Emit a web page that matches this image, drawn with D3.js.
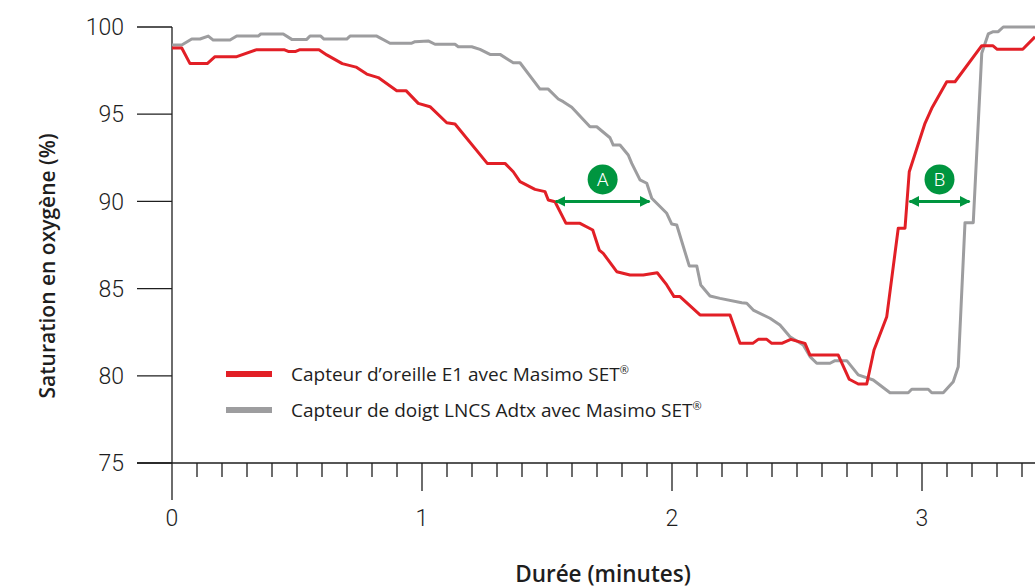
<!DOCTYPE html>
<html>
<head>
<meta charset="utf-8">
<script src="https://cdn.jsdelivr.net/npm/d3@7"></script>
<style>
  body { margin: 0; background: #fff; }
  svg { display: block; font-family: "Open Sans", "Noto Sans", sans-serif; }
</style>
</head>
<body>
<div class="chart"></div>
<script>
// data (minutes, SpO2 %)
const earTime = [0, 0.039, 0.072, 0.141, 0.172, 0.259, 0.339, 0.448, 0.465, 0.495, 0.512, 0.588, 0.619, 0.681, 0.736, 0.779, 0.825, 0.899, 0.936, 0.985, 1.032, 1.099, 1.132, 1.261, 1.332, 1.365, 1.392, 1.452, 1.492, 1.505, 1.532, 1.576, 1.632, 1.683, 1.709, 1.725, 1.779, 1.832, 1.885, 1.941, 1.979, 2.008, 2.032, 2.112, 2.232, 2.272, 2.323, 2.345, 2.379, 2.399, 2.439, 2.475, 2.532, 2.552, 2.665, 2.709, 2.745, 2.779, 2.808, 2.859, 2.905, 2.932, 2.949, 3.012, 3.039, 3.099, 3.132, 3.239, 3.283, 3.301, 3.403, 3.452]
const earValue = [98.8, 98.8, 97.9, 97.9, 98.3, 98.3, 98.7, 98.7, 98.6, 98.6, 98.7, 98.7, 98.4, 97.9, 97.7, 97.3, 97.1, 96.35, 96.35, 95.62, 95.43, 94.51, 94.44, 92.18, 92.18, 91.7, 91.13, 90.69, 90.56, 90.08, 89.98, 88.74, 88.74, 88.36, 87.21, 87.02, 85.97, 85.78, 85.78, 85.91, 85.21, 84.54, 84.54, 83.49, 83.49, 81.86, 81.86, 82.09, 82.09, 81.86, 81.86, 82.09, 81.86, 81.19, 81.19, 79.8, 79.53, 79.53, 81.48, 83.39, 88.46, 88.46, 91.7, 94.48, 95.34, 96.86, 96.86, 98.93, 98.93, 98.72, 98.72, 99.44]

const fingerTime = [0, 0.039, 0.079, 0.112, 0.145, 0.165, 0.232, 0.259, 0.345, 0.355, 0.445, 0.479, 0.539, 0.552, 0.595, 0.608, 0.699, 0.712, 0.819, 0.872, 0.959, 0.972, 1.025, 1.052, 1.132, 1.145, 1.199, 1.232, 1.272, 1.312, 1.365, 1.392, 1.472, 1.505, 1.545, 1.565, 1.599, 1.672, 1.699, 1.752, 1.765, 1.792, 1.825, 1.839, 1.872, 1.899, 1.919, 1.979, 1.999, 2.019, 2.069, 2.099, 2.115, 2.152, 2.192, 2.279, 2.299, 2.325, 2.392, 2.432, 2.472, 2.525, 2.552, 2.579, 2.632, 2.652, 2.699, 2.745, 2.805, 2.872, 2.945, 2.959, 3.025, 3.039, 3.085, 3.125, 3.145, 3.172, 3.205, 3.239, 3.265, 3.285, 3.305, 3.325, 3.452]
const fingerValue = [98.97, 98.97, 99.31, 99.31, 99.48, 99.25, 99.25, 99.48, 99.48, 99.6, 99.6, 99.29, 99.29, 99.48, 99.48, 99.31, 99.31, 99.48, 99.48, 99.07, 99.07, 99.16, 99.2, 99.01, 99.01, 98.87, 98.87, 98.72, 98.43, 98.43, 97.95, 97.95, 96.44, 96.44, 95.87, 95.72, 95.4, 94.28, 94.28, 93.65, 93.23, 93.23, 92.66, 92.18, 91.23, 91.04, 90.18, 89.32, 88.7, 88.65, 86.3, 86.3, 85.21, 84.58, 84.44, 84.19, 84.16, 83.77, 83.3, 82.91, 82.24, 81.77, 81.1, 80.72, 80.72, 80.87, 80.87, 80.05, 79.76, 79.03, 79.03, 79.23, 79.23, 79.03, 79.03, 79.66, 80.52, 88.78, 88.78, 98.49, 99.6, 99.73, 99.73, 100, 100]

const yTicks = [75, 80, 85, 90, 95, 100]
const xTicks = [0, 1, 2, 3]
const seriesNames = ["Capteur d\u2019oreille E1 avec Masimo SET", "Capteur de doigt LNCS Adtx avec Masimo SET"]
// delay markers: [label, start, end, level]
const gaps = [["A", 1.535, 1.91, 90], ["B", 2.95, 3.19, 90]]

const width = 1035
const height = 588
const red = "#e21f26"
const grey = "#9d9d9f"
const green = "#00953f"
const ink = "#1e1e1e"

const svg = d3.select(".chart").append("svg")
  .attr("width", width)
  .attr("height", height)

const x = d3.scaleLinear().domain([-0.14, 3.452]).range([137, 1035])
const y = d3.scaleLinear().domain([75, 100]).range([463, 27])

// x axis
const xAxis = svg.append("g").attr("transform", `translate(0,${y(75)})`)
xAxis.append("line")
  .attr("x1", x(-0.14)).attr("x2", width)
  .attr("stroke", ink).attr("stroke-width", 1.3)
xAxis.selectAll("line.minor")
  .data(d3.range(1, 35).map(i => i / 10).filter(d => Math.abs(d - Math.round(d)) > 0.01))
  .join("line")
  .attr("class", "minor")
  .attr("x1", d => x(d)).attr("x2", d => x(d))
  .attr("y1", 0).attr("y2", 14)
  .attr("stroke", ink).attr("stroke-width", 1.3)
xAxis.selectAll("line.major")
  .data(xTicks.slice(1))
  .join("line")
  .attr("class", "major")
  .attr("x1", d => x(d)).attr("x2", d => x(d))
  .attr("y1", 0).attr("y2", 28)
  .attr("stroke", ink).attr("stroke-width", 1.3)
xAxis.selectAll("text")
  .data(xTicks)
  .join("text")
  .attr("x", d => x(d))
  .attr("y", 63)
  .attr("text-anchor", "middle")
  .attr("font-family", "Roboto")
  .attr("font-size", 23)
  .attr("font-weight", 300)
  .attr("fill", ink)
  .text(d => d)

// y axis
const yAxis = svg.append("g")
yAxis.append("line")
  .attr("x1", x(0)).attr("x2", x(0))
  .attr("y1", y(100)).attr("y2", 500)
  .attr("stroke", ink).attr("stroke-width", 1.3)
yAxis.selectAll("line.tick")
  .data(yTicks)
  .join("line")
  .attr("class", "tick")
  .attr("x1", 137).attr("x2", x(0))
  .attr("y1", d => y(d)).attr("y2", d => y(d))
  .attr("stroke", ink).attr("stroke-width", 1.3)
yAxis.selectAll("text")
  .data(yTicks)
  .join("text")
  .attr("x", 124)
  .attr("y", d => y(d))
  .attr("dy", "0.36em")
  .attr("text-anchor", "end")
  .attr("font-family", "Roboto")
  .attr("font-size", 23)
  .attr("font-weight", 300)
  .attr("fill", ink)
  .text(d => d)

// axis titles
svg.append("text")
  .attr("transform", `translate(55,${y(86.3)}) rotate(-90)`)
  .attr("text-anchor", "middle")
  .attr("font-size", 21)
  .attr("font-weight", 600)
  .attr("fill", ink)
  .text("Saturation en oxygène (%)")

svg.append("text")
  .attr("x", 603)
  .attr("y", 582)
  .attr("text-anchor", "middle")
  .attr("font-size", 22.5)
  .attr("font-weight", 600)
  .attr("fill", ink)
  .text("Durée (minutes)")

// lines
const line = d3.line().x(d => x(d[0])).y(d => y(d[1]))
const fingerData = d3.zip(fingerTime, fingerValue)
const earData = d3.zip(earTime, earValue)

svg.append("path")
  .datum(fingerData)
  .attr("d", line)
  .attr("fill", "none")
  .attr("stroke", grey)
  .attr("stroke-width", 3)
  .attr("stroke-linejoin", "round")

svg.append("path")
  .datum(earData)
  .attr("d", line)
  .attr("fill", "none")
  .attr("stroke", red)
  .attr("stroke-width", 3)
  .attr("stroke-linejoin", "round")

// arrows A / B
const defs = svg.append("defs")
defs.append("marker")
  .attr("id", "head")
  .attr("viewBox", "0 0 10 10")
  .attr("refX", 9).attr("refY", 5)
  .attr("markerWidth", 3.6).attr("markerHeight", 3.6)
  .attr("orient", "auto-start-reverse")
  .append("path")
  .attr("d", "M0,0 L10,5 L0,10 Z")
  .attr("fill", green)

const gapG = svg.selectAll("g.gap")
  .data(gaps)
  .join("g")
  .attr("class", "gap")

gapG.append("line")
  .attr("x1", d => x(d[1])).attr("x2", d => x(d[2]))
  .attr("y1", d => y(d[3])).attr("y2", d => y(d[3]))
  .attr("stroke", green)
  .attr("stroke-width", 3)
  .attr("marker-start", "url(#head)")
  .attr("marker-end", "url(#head)")

gapG.append("circle")
  .attr("cx", d => (x(d[1]) + x(d[2])) / 2)
  .attr("cy", d => y(d[3]) - 22)
  .attr("r", 15)
  .attr("fill", green)

gapG.append("text")
  .attr("x", d => (x(d[1]) + x(d[2])) / 2)
  .attr("y", d => y(d[3]) - 22)
  .attr("dy", "0.36em")
  .attr("text-anchor", "middle")
  .attr("font-family", "Roboto")
  .attr("font-size", 19)
  .attr("font-weight", 300)
  .attr("fill", "#fff")
  .text(d => d[0])

// legend
const legend = svg.append("g")
  .selectAll("g")
  .data(seriesNames)
  .join("g")
  .attr("transform", (d, i) => `translate(226,${374 + i * 36})`)

legend.append("line")
  .attr("x1", 0).attr("x2", 46)
  .attr("stroke", (d, i) => i === 0 ? red : grey)
  .attr("stroke-width", 6)

const legendText = legend.append("text")
  .attr("x", 65)
  .attr("dy", "0.35em")
  .attr("font-size", 19)
  .attr("fill", ink)
  .text(d => d)
legendText.append("tspan")
  .attr("font-size", 11)
  .attr("dy", "-0.6em")
  .text("\u00AE")
</script>
</body>
</html>
